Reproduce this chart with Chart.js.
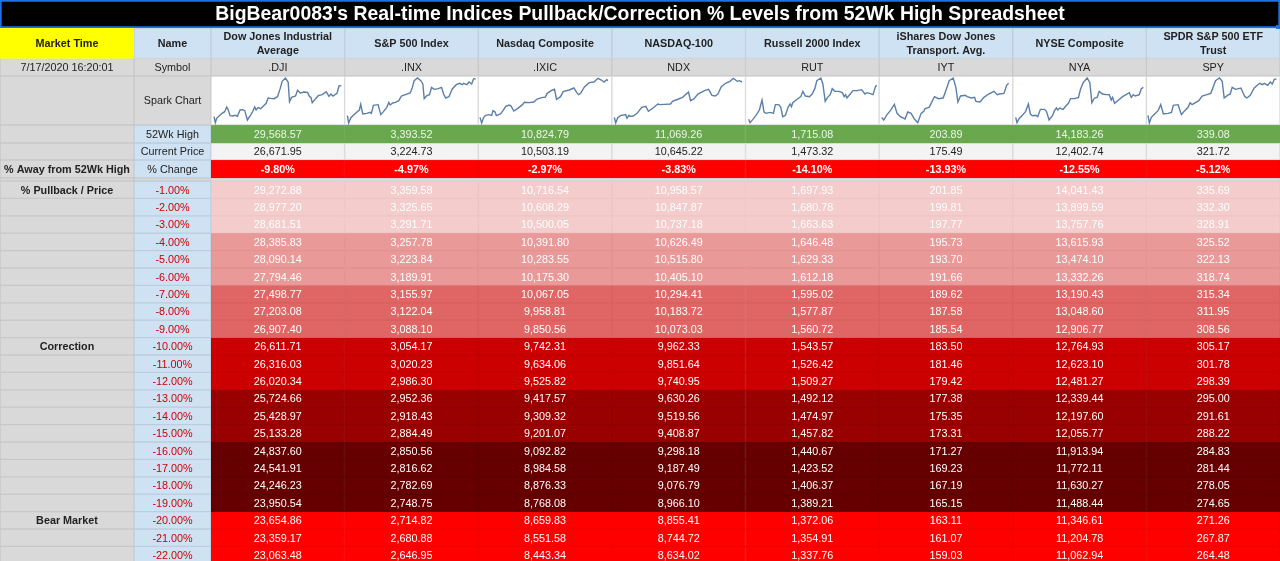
<!DOCTYPE html>
<html>
<head>
<meta charset="utf-8">
<title>Indices Pullback Spreadsheet</title>
<script src="https://cdn.jsdelivr.net/npm/chart.js@4"></script>
<style>
    html, body { margin: 0; padding: 0; background: #fff; overflow: hidden; }
    #sheet { position: relative; width: 1280px; height: 561px; overflow: hidden; filter: blur(0.4px); }
    #sheet canvas { position: absolute; display: block; }
    #handle { position: absolute; left: 1276px; top: 25px; width: 4px; height: 4px; background: #1a73e8; }
</style>
</head>
<body>
<div id="sheet">
    <canvas id="nameChart" width="77" height="533" style="left:134px;top:28px"></canvas>
    <canvas id="timeChart" width="134" height="533" style="left:0;top:28px"></canvas>
    <canvas id="levelChart" width="1069" height="533" style="left:211px;top:28px"></canvas>
    <canvas id="titleChart" width="1280" height="28" style="left:0;top:0"></canvas>
    <div id="handle"></div>
</div>
<script>
// ==================== DATA ====================
const sheetTitle = "BigBear0083's Real-time Indices Pullback/Correction % Levels from 52Wk High Spreadsheet";
const marketTime = '7/17/2020 16:20:01';

const indexNames = ['Dow Jones Industrial\nAverage', 'S&P 500 Index', 'Nasdaq Composite', 'NASDAQ-100',
    'Russell 2000 Index', 'iShares Dow Jones\nTransport. Avg.', 'NYSE Composite', 'SPDR S&P 500 ETF\nTrust'];
const indexSymbols = ['.DJI', '.INX', '.IXIC', 'NDX', 'RUT', 'IYT', 'NYA', 'SPY'];
const highPrices = [29568.57, 3393.52, 10824.79, 11069.26, 1715.08, 203.89, 14183.26, 339.08];
const currentPrices = [26671.95, 3224.73, 10503.19, 10645.22, 1473.32, 175.49, 12402.74, 321.72];
const changePercents = [-9.80, -4.97, -2.97, -3.83, -14.10, -13.93, -12.55, -5.12];
const pullbackPercents = [-1, -2, -3, -4, -5, -6, -7, -8, -9, -10, -11, -12, -13, -14, -15, -16, -17, -18, -19, -20, -21, -22];

const djiLevels = [29272.88, 28977.20, 28681.51, 28385.83, 28090.14, 27794.46, 27498.77, 27203.08, 26907.40, 26611.71, 26316.03,
    26020.34, 25724.66, 25428.97, 25133.28, 24837.60, 24541.91, 24246.23, 23950.54, 23654.86, 23359.17, 23063.48];
const inxLevels = [3359.58, 3325.65, 3291.71, 3257.78, 3223.84, 3189.91, 3155.97, 3122.04, 3088.10, 3054.17, 3020.23,
    2986.30, 2952.36, 2918.43, 2884.49, 2850.56, 2816.62, 2782.69, 2748.75, 2714.82, 2680.88, 2646.95];
const ixicLevels = [10716.54, 10608.29, 10500.05, 10391.80, 10283.55, 10175.30, 10067.05, 9958.81, 9850.56, 9742.31, 9634.06,
    9525.82, 9417.57, 9309.32, 9201.07, 9092.82, 8984.58, 8876.33, 8768.08, 8659.83, 8551.58, 8443.34];
const ndxLevels = [10958.57, 10847.87, 10737.18, 10626.49, 10515.80, 10405.10, 10294.41, 10183.72, 10073.03, 9962.33, 9851.64,
    9740.95, 9630.26, 9519.56, 9408.87, 9298.18, 9187.49, 9076.79, 8966.10, 8855.41, 8744.72, 8634.02];
const rutLevels = [1697.93, 1680.78, 1663.63, 1646.48, 1629.33, 1612.18, 1595.02, 1577.87, 1560.72, 1543.57, 1526.42,
    1509.27, 1492.12, 1474.97, 1457.82, 1440.67, 1423.52, 1406.37, 1389.21, 1372.06, 1354.91, 1337.76];
const iytLevels = [201.85, 199.81, 197.77, 195.73, 193.70, 191.66, 189.62, 187.58, 185.54, 183.50, 181.46,
    179.42, 177.38, 175.35, 173.31, 171.27, 169.23, 167.19, 165.15, 163.11, 161.07, 159.03];
const nyaLevels = [14041.43, 13899.59, 13757.76, 13615.93, 13474.10, 13332.26, 13190.43, 13048.60, 12906.77, 12764.93, 12623.10,
    12481.27, 12339.44, 12197.60, 12055.77, 11913.94, 11772.11, 11630.27, 11488.44, 11346.61, 11204.78, 11062.94];
const spyLevels = [335.69, 332.30, 328.91, 325.52, 322.13, 318.74, 315.34, 311.95, 308.56, 305.17, 301.78,
    298.39, 295.00, 291.61, 288.22, 284.83, 281.44, 278.05, 274.65, 271.26, 267.87, 264.48];

// spark chart readings: [sample position, height of the line]
const djiSpark = [[9,25],[13,7],[17,20],[25,28],[33,35],[41,40],[47,54],[51,47],[57,28],[65,27],[73,29],[79,26],[87,45],[95,46],[101,43],[109,15],[117,27],[125,41],[131,54],[135,45],[141,52],[149,49],[157,57],[165,65],[171,81],[179,80],[189,79],[199,85],[207,109],[213,131],[223,141],[231,128],[235,70],[241,83],[253,87],[259,104],[267,96],[279,99],[289,98],[295,85],[299,83],[303,67],[313,79],[321,88],[333,91],[345,100],[353,86],[359,93],[365,87],[377,95],[383,117],[390,118]];
const inxSpark = [[7,28],[11,6],[17,21],[25,29],[35,38],[43,45],[47,62],[53,33],[65,35],[75,38],[79,35],[85,59],[99,61],[107,31],[115,40],[125,53],[131,68],[135,60],[143,66],[151,68],[161,73],[169,87],[181,91],[195,96],[201,111],[207,133],[217,141],[227,133],[233,123],[237,79],[245,88],[253,91],[259,113],[267,107],[279,109],[289,113],[295,93],[301,81],[311,85],[321,108],[333,121],[343,125],[351,121],[355,125],[365,121],[371,129],[379,123],[385,139],[391,138]];
const ixicSpark = [[6,23],[11,6],[17,23],[23,29],[33,31],[41,29],[45,43],[51,39],[55,28],[67,33],[75,43],[83,56],[93,60],[99,57],[107,42],[119,50],[133,61],[139,68],[153,67],[167,69],[177,78],[193,83],[201,83],[207,95],[219,103],[229,107],[235,77],[247,85],[255,100],[273,105],[287,111],[295,98],[301,91],[307,95],[319,115],[333,127],[347,129],[359,140],[369,135],[377,129],[385,136],[389,133]];
const ndxSpark = [[7,23],[11,6],[17,21],[25,28],[41,31],[45,20],[51,29],[55,26],[63,27],[75,35],[89,53],[101,56],[109,41],[123,51],[137,63],[143,61],[157,62],[175,63],[181,71],[199,78],[211,83],[229,99],[235,73],[245,78],[257,93],[277,103],[289,107],[299,89],[309,87],[317,93],[327,115],[341,126],[353,131],[363,140],[375,131],[381,133],[389,129]];
const rutSpark = [[8,17],[12,7],[20,16],[30,29],[40,45],[48,75],[54,39],[60,35],[68,37],[76,37],[82,35],[88,61],[98,61],[104,53],[110,25],[118,29],[126,53],[132,63],[136,55],[140,67],[150,75],[164,85],[170,101],[178,87],[190,85],[198,93],[206,109],[212,133],[224,141],[230,123],[237,71],[244,83],[252,91],[258,109],[266,101],[278,101],[288,97],[294,85],[298,91],[302,81],[312,93],[320,103],[332,103],[346,106],[356,93],[362,97],[370,95],[380,91],[388,117],[392,118]];
const iytSpark = [[8,23],[14,15],[24,31],[34,43],[46,62],[54,35],[64,25],[78,18],[86,39],[96,35],[106,18],[116,7],[126,35],[134,41],[138,49],[150,53],[166,85],[178,79],[192,81],[202,109],[210,133],[222,141],[230,113],[236,69],[244,87],[258,89],[264,85],[276,81],[286,83],[290,71],[302,69],[314,83],[328,93],[344,101],[354,91],[360,93],[374,95],[382,119],[388,125]];
const nyaSpark = [[8,23],[12,7],[18,19],[28,29],[38,41],[46,63],[52,33],[58,28],[68,29],[74,25],[82,47],[94,47],[100,41],[108,15],[118,28],[124,43],[130,51],[134,45],[140,51],[150,47],[158,57],[166,65],[172,79],[184,79],[196,83],[202,107],[210,127],[222,141],[230,127],[236,67],[244,81],[252,83],[258,101],[268,93],[278,91],[288,91],[294,75],[298,83],[304,65],[316,75],[328,85],[348,97],[354,83],[360,91],[366,87],[378,91],[384,109],[390,113]];
const spySpark = [[6,29],[10,6],[16,23],[26,33],[36,43],[44,61],[52,33],[66,35],[76,38],[82,59],[96,61],[106,31],[116,43],[126,53],[132,67],[138,61],[148,67],[158,73],[168,87],[182,91],[194,95],[200,111],[208,133],[220,141],[228,131],[234,81],[244,89],[252,93],[258,113],[268,107],[284,111],[292,93],[296,85],[302,81],[312,89],[324,111],[340,125],[348,121],[354,125],[364,119],[372,129],[378,123],[384,137],[390,138]];

// ==================== LAYOUT AND STYLE ====================
const headHeights = [30.5, 17.5, 49, 18, 17, 18, 3];   // name, symbol, spark, high, current, change, gap
const levelHeight = 17.4;
const SPARK_ROW = 2;
const GRID_BOTTOM = 533;

const FONT = '10.8px "Liberation Sans", Arial, sans-serif';
const BOLD = 'bold 10.8px "Liberation Sans", Arial, sans-serif';

const bandFills = ['#f4cccc', '#ea9999', '#e06666', '#cc0000', '#990000', '#660000', '#ff0000'];
const bandBorders = ['#eec5c5', '#e39191', '#d95f5f', '#c20000', '#910000', '#5e0000', '#f40000'];
const bandRows = [3, 3, 3, 3, 3, 4, 3];

const money = v => v.toLocaleString('en-US', { minimumFractionDigits: 2, maximumFractionDigits: 2 });
const percent = v => v.toFixed(2) + '%';

// Top and bottom of each sheet row on the shared y scale
const rowHeights = headHeights.concat(pullbackPercents.map(() => levelHeight));
const rowEdges = [0];
rowHeights.forEach(h => rowEdges.push(rowEdges[rowEdges.length - 1] + h));

const bandFill = [];
const bandBorder = [];
bandRows.forEach((count, band) => {
    for (let i = 0; i < count; i++) {
        bandFill.push(bandFills[band]);
        bandBorder.push(bandBorders[band]);
    }
});

// Prints each cell's label in the middle of its bar
const cellTextPlugin = {
    id: 'cellText',
    afterDatasetsDraw(chart) {
        const ctx = chart.ctx;
        ctx.save();
        ctx.textAlign = 'center';
        ctx.textBaseline = 'middle';
        chart.data.datasets.forEach((dataset, d) => {
            chart.getDatasetMeta(d).data.forEach((bar, i) => {
                const label = dataset.cellLabels[i];
                if (!label) return;
                const center = bar.getCenterPoint();
                const lines = label.split('\n');
                ctx.font = dataset.cellFont;
                ctx.fillStyle = dataset.cellColor;
                lines.forEach((line, n) => {
                    ctx.fillText(line, center.x, center.y + 1 + (n - (lines.length - 1) / 2) * 13.5);
                });
            });
        });
        ctx.restore();
    }
};

// One floating bar per cell, stacked down the reversed y scale
function makeGrid(canvasId, columns, rows, yMax) {
    return new Chart(document.getElementById(canvasId), {
        type: 'bar',
        plugins: [cellTextPlugin],
        data: {
            labels: columns,
            datasets: rows.map(row => ({
                data: columns.map(() => [row.top, row.bottom]),
                backgroundColor: row.fill,
                borderColor: row.border,
                borderWidth: row.borderWidth || 1,
                borderSkipped: false,
                barPercentage: 1,
                categoryPercentage: 1,
                grouped: false,
                cellLabels: row.labels,
                cellFont: row.font || FONT,
                cellColor: row.color || '#222'
            }))
        },
        options: {
            responsive: false,
            animation: false,
            devicePixelRatio: 1,
            layout: { padding: 0 },
            plugins: { legend: { display: false }, tooltip: { enabled: false } },
            scales: {
                x: { display: false },
                y: { display: false, reverse: true, min: 0, max: yMax }
            }
        }
    });
}

function rowSpan(r) {
    return { top: rowEdges[r], bottom: rowEdges[r + 1] };
}

document.addEventListener('DOMContentLoaded', function () {

    // ==================== TITLE BAR ====================
    makeGrid('titleChart', ['title'], [{
        top: 0, bottom: 28, fill: '#000', border: '#1a73e8', borderWidth: 2,
        labels: [sheetTitle], font: 'bold 19.4px "Liberation Sans", Arial, sans-serif', color: '#fff'
    }], 28);

    // ==================== MARKET TIME COLUMN ====================
    const timeLabels = ['Market Time', marketTime, '', '', '', '% Away from 52Wk High', ''];
    const timeRows = headHeights.map((h, r) => Object.assign(rowSpan(r), {
        fill: r === 0 ? '#ffff00' : '#d9d9d9',
        border: r === 0 ? '#ffff00' : '#c8c8c8',
        labels: [timeLabels[r]],
        font: (r === 0 || r === 5) ? BOLD : FONT
    }));
    pullbackPercents.forEach((p, i) => {
        const tag = p === -1 ? '% Pullback / Price' : p === -10 ? 'Correction' : p === -20 ? 'Bear Market' : '';
        timeRows.push(Object.assign(rowSpan(headHeights.length + i), {
            fill: '#d9d9d9', border: '#c8c8c8', labels: [tag], font: BOLD
        }));
    });
    makeGrid('timeChart', ['time'], timeRows, GRID_BOTTOM);

    // ==================== NAME COLUMN ====================
    const nameLabels = ['Name', 'Symbol', 'Spark Chart', '52Wk High', 'Current Price', '% Change', ''];
    const nameRows = headHeights.map((h, r) => {
        const grey = r === 1 || r === 2 || r === 6;
        return Object.assign(rowSpan(r), {
            fill: grey ? '#d9d9d9' : '#cfe2f3',
            border: grey ? '#c8c8c8' : '#bccddd',
            labels: [nameLabels[r]],
            font: r === 0 ? BOLD : FONT
        });
    });
    pullbackPercents.forEach((p, i) => {
        nameRows.push(Object.assign(rowSpan(headHeights.length + i), {
            fill: '#cfe2f3', border: '#bccddd', labels: [percent(p)], color: '#cc0000'
        }));
    });
    makeGrid('nameChart', ['name'], nameRows, GRID_BOTTOM);

    // ==================== INDEX LEVELS ====================
    const indexLevels = [djiLevels, inxLevels, ixicLevels, ndxLevels, rutLevels, iytLevels, nyaLevels, spyLevels];
    const levelRows = [
        Object.assign(rowSpan(0), { fill: '#cfe2f3', border: '#bccddd', labels: indexNames, font: BOLD }),
        Object.assign(rowSpan(1), { fill: '#d9d9d9', border: '#c8c8c8', labels: indexSymbols }),
        Object.assign(rowSpan(2), { fill: '#fff', border: '#d9d9d9', labels: [] }),
        Object.assign(rowSpan(3), { fill: '#6aa84f', border: '#6aa84f', labels: highPrices.map(money), color: '#eef5ea' }),
        Object.assign(rowSpan(4), { fill: '#f3f3f3', border: '#d9d9d9', labels: currentPrices.map(money) }),
        Object.assign(rowSpan(5), { fill: '#ff0000', border: '#f40000', labels: changePercents.map(percent), font: BOLD, color: '#fff' }),
        Object.assign(rowSpan(6), { fill: '#d9d9d9', border: '#d9d9d9', labels: [] })
    ];
    pullbackPercents.forEach((p, i) => {
        levelRows.push(Object.assign(rowSpan(headHeights.length + i), {
            fill: bandFill[i],
            border: bandBorder[i],
            labels: indexLevels.map(col => money(col[i])),
            color: '#fff'
        }));
    });
    const levelChart = makeGrid('levelChart', indexSymbols, levelRows, GRID_BOTTOM);

    // ==================== SPARK CHARTS ====================
    // Each spark sits over its own column of the spark row
    const sparks = [djiSpark, inxSpark, ixicSpark, ndxSpark, rutSpark, iytSpark, nyaSpark, spySpark];
    const sheet = document.getElementById('sheet');
    const xScale = levelChart.scales.x;
    const yScale = levelChart.scales.y;
    const sparkTop = yScale.getPixelForValue(rowEdges[SPARK_ROW]);
    const sparkBottom = yScale.getPixelForValue(rowEdges[SPARK_ROW + 1]);
    const columnWidth = xScale.width / indexSymbols.length;

    sparks.forEach((spark, i) => {
        const canvas = document.createElement('canvas');
        canvas.width = Math.round(columnWidth);
        canvas.height = Math.round(sparkBottom - sparkTop);
        canvas.style.left = Math.round(211 + xScale.getPixelForValue(i) - columnWidth / 2) + 'px';
        canvas.style.top = Math.round(28 + sparkTop) + 'px';
        sheet.appendChild(canvas);

        new Chart(canvas, {
            type: 'line',
            data: {
                datasets: [{
                    data: spark.map(p => ({ x: p[0], y: p[1] })),
                    borderColor: '#5b7fa8',
                    borderWidth: 1.4,
                    pointRadius: 0,
                    tension: 0
                }]
            },
            options: {
                responsive: false,
                animation: false,
                devicePixelRatio: 1,
                layout: { padding: 0 },
                plugins: { legend: { display: false }, tooltip: { enabled: false } },
                scales: {
                    x: { type: 'linear', display: false, min: 0, max: 401 },
                    y: { display: false, min: 0, max: 147 }
                }
            }
        });
    });
});
</script>
</body>
</html>
